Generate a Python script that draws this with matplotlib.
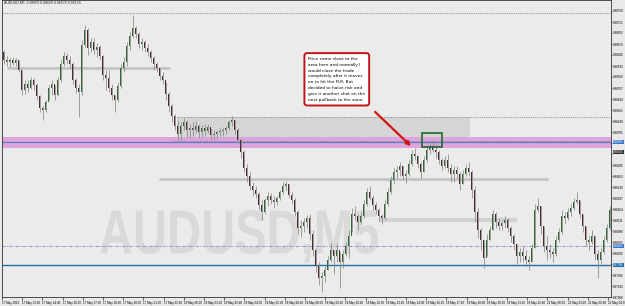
import numpy as np
import matplotlib.pyplot as plt
from matplotlib.textpath import TextPath
from matplotlib.patches import PathPatch, Rectangle
from matplotlib.font_manager import FontProperties
from matplotlib.transforms import Affine2D, blended_transform_factory

# AUDUSD M5 candles, open = previous close
first_open = 0.98635
highs = [
    0.98641, 0.98623, 0.98617, 0.98620, 0.98617, 0.98611, 0.98581, 0.98551, 0.98551, 0.98560,
    0.98557, 0.98542, 0.98506, 0.98476, 0.98491, 0.98536, 0.98551, 0.98536, 0.98560, 0.98611,
    0.98635, 0.98632, 0.98623, 0.98605, 0.98557, 0.98539, 0.98671, 0.98716, 0.98707, 0.98677,
    0.98677, 0.98662, 0.98656, 0.98626, 0.98581, 0.98581, 0.98539, 0.98506, 0.98545, 0.98599,
    0.98620, 0.98665, 0.98695, 0.98746, 0.98713, 0.98695, 0.98677, 0.98671, 0.98659, 0.98641,
    0.98623, 0.98605, 0.98587, 0.98575, 0.98545, 0.98515, 0.98479, 0.98449, 0.98431, 0.98425,
    0.98437, 0.98431, 0.98419, 0.98425, 0.98428, 0.98419, 0.98416, 0.98419, 0.98419, 0.98407,
    0.98401, 0.98401, 0.98407, 0.98410, 0.98413, 0.98431, 0.98443, 0.98431, 0.98407, 0.98377,
    0.98341, 0.98299, 0.98275, 0.98245, 0.98233, 0.98215, 0.98191, 0.98197, 0.98215, 0.98212,
    0.98203, 0.98203, 0.98221, 0.98245, 0.98248, 0.98239, 0.98215, 0.98197, 0.98161, 0.98131,
    0.98137, 0.98146, 0.98149, 0.98101, 0.98047, 0.98005, 0.97975, 0.97993, 0.98023, 0.98062,
    0.98041, 0.98062, 0.98035, 0.98041, 0.98065, 0.98101, 0.98167, 0.98173, 0.98149, 0.98155,
    0.98191, 0.98227, 0.98233, 0.98206, 0.98185, 0.98167, 0.98149, 0.98191, 0.98227, 0.98263,
    0.98287, 0.98293, 0.98305, 0.98293, 0.98281, 0.98311, 0.98341, 0.98347, 0.98326, 0.98305,
    0.98323, 0.98353, 0.98365, 0.98371, 0.98359, 0.98341, 0.98317, 0.98323, 0.98329, 0.98299,
    0.98293, 0.98293, 0.98275, 0.98281, 0.98299, 0.98305, 0.98281, 0.98233, 0.98167, 0.98107,
    0.98071, 0.98089, 0.98113, 0.98161, 0.98155, 0.98137, 0.98131, 0.98143, 0.98137, 0.98113,
    0.98089, 0.98059, 0.98047, 0.98053, 0.98041, 0.98023, 0.98059, 0.98179, 0.98197, 0.98173,
    0.98113, 0.98083, 0.98059, 0.98047, 0.98083, 0.98107, 0.98161, 0.98155, 0.98167, 0.98179,
    0.98197, 0.98215, 0.98191, 0.98149, 0.98113, 0.98083, 0.98101, 0.98083, 0.98041, 0.98047,
    0.98083, 0.98119, 0.98173,
]
lows = [
    0.98599, 0.98593, 0.98590, 0.98596, 0.98593, 0.98575, 0.98506, 0.98509, 0.98515, 0.98524,
    0.98521, 0.98491, 0.98455, 0.98431, 0.98455, 0.98491, 0.98506, 0.98491, 0.98503, 0.98545,
    0.98593, 0.98599, 0.98587, 0.98539, 0.98512, 0.98440, 0.98506, 0.98647, 0.98626, 0.98635,
    0.98629, 0.98620, 0.98611, 0.98551, 0.98521, 0.98515, 0.98491, 0.98455, 0.98485, 0.98527,
    0.98575, 0.98593, 0.98641, 0.98677, 0.98677, 0.98647, 0.98641, 0.98635, 0.98623, 0.98605,
    0.98581, 0.98575, 0.98551, 0.98539, 0.98491, 0.98455, 0.98425, 0.98401, 0.98371, 0.98371,
    0.98401, 0.98380, 0.98377, 0.98383, 0.98392, 0.98377, 0.98380, 0.98383, 0.98392, 0.98371,
    0.98371, 0.98377, 0.98383, 0.98383, 0.98389, 0.98401, 0.98413, 0.98389, 0.98359, 0.98317,
    0.98275, 0.98245, 0.98221, 0.98203, 0.98197, 0.98161, 0.98131, 0.98149, 0.98173, 0.98179,
    0.98167, 0.98176, 0.98191, 0.98209, 0.98221, 0.98197, 0.98179, 0.98143, 0.98089, 0.98080,
    0.98095, 0.98107, 0.98071, 0.98023, 0.97975, 0.97936, 0.97915, 0.97945, 0.97981, 0.98005,
    0.97969, 0.98005, 0.97927, 0.97987, 0.98023, 0.98017, 0.98095, 0.98131, 0.98101, 0.98119,
    0.98137, 0.98173, 0.98191, 0.98161, 0.98149, 0.98125, 0.98119, 0.98131, 0.98173, 0.98209,
    0.98239, 0.98257, 0.98263, 0.98251, 0.98242, 0.98263, 0.98293, 0.98311, 0.98287, 0.98257,
    0.98275, 0.98305, 0.98329, 0.98335, 0.98317, 0.98299, 0.98281, 0.98287, 0.98275, 0.98245,
    0.98245, 0.98257, 0.98221, 0.98239, 0.98263, 0.98263, 0.98197, 0.98125, 0.98077, 0.98041,
    0.97987, 0.98023, 0.98071, 0.98101, 0.98107, 0.98101, 0.98101, 0.98107, 0.98095, 0.98065,
    0.98041, 0.97999, 0.98005, 0.98005, 0.97993, 0.97981, 0.98005, 0.98047, 0.98155, 0.98089,
    0.98035, 0.98011, 0.98017, 0.98005, 0.98023, 0.98065, 0.98089, 0.98119, 0.98131, 0.98143,
    0.98161, 0.98179, 0.98137, 0.98095, 0.98053, 0.98041, 0.98059, 0.98011, 0.97957, 0.97999,
    0.98029, 0.98065, 0.98101,
]
closes = [
    0.98611, 0.98605, 0.98611, 0.98602, 0.98611, 0.98581, 0.98521, 0.98539, 0.98527, 0.98551,
    0.98536, 0.98503, 0.98467, 0.98461, 0.98485, 0.98527, 0.98539, 0.98506, 0.98551, 0.98599,
    0.98623, 0.98611, 0.98599, 0.98551, 0.98527, 0.98515, 0.98656, 0.98701, 0.98647, 0.98665,
    0.98641, 0.98650, 0.98623, 0.98566, 0.98557, 0.98527, 0.98506, 0.98491, 0.98533, 0.98587,
    0.98605, 0.98653, 0.98683, 0.98707, 0.98689, 0.98659, 0.98665, 0.98647, 0.98635, 0.98617,
    0.98599, 0.98587, 0.98563, 0.98551, 0.98509, 0.98473, 0.98443, 0.98413, 0.98389, 0.98413,
    0.98425, 0.98401, 0.98407, 0.98401, 0.98413, 0.98395, 0.98407, 0.98398, 0.98410, 0.98386,
    0.98389, 0.98395, 0.98398, 0.98401, 0.98407, 0.98425, 0.98431, 0.98401, 0.98371, 0.98335,
    0.98287, 0.98263, 0.98233, 0.98221, 0.98209, 0.98176, 0.98155, 0.98191, 0.98203, 0.98191,
    0.98185, 0.98197, 0.98215, 0.98233, 0.98239, 0.98206, 0.98191, 0.98155, 0.98107, 0.98113,
    0.98125, 0.98137, 0.98089, 0.98041, 0.97993, 0.97957, 0.97963, 0.97981, 0.98011, 0.98041,
    0.98023, 0.98041, 0.98005, 0.98029, 0.98053, 0.98083, 0.98149, 0.98143, 0.98125, 0.98143,
    0.98179, 0.98215, 0.98197, 0.98176, 0.98161, 0.98143, 0.98137, 0.98179, 0.98215, 0.98251,
    0.98275, 0.98281, 0.98293, 0.98263, 0.98269, 0.98299, 0.98329, 0.98323, 0.98299, 0.98275,
    0.98311, 0.98341, 0.98353, 0.98341, 0.98335, 0.98311, 0.98293, 0.98311, 0.98287, 0.98269,
    0.98281, 0.98269, 0.98239, 0.98269, 0.98287, 0.98275, 0.98221, 0.98155, 0.98101, 0.98071,
    0.98017, 0.98071, 0.98101, 0.98149, 0.98125, 0.98113, 0.98122, 0.98131, 0.98107, 0.98083,
    0.98059, 0.98023, 0.98035, 0.98023, 0.98011, 0.98005, 0.98047, 0.98161, 0.98173, 0.98113,
    0.98053, 0.98041, 0.98035, 0.98029, 0.98071, 0.98095, 0.98143, 0.98137, 0.98155, 0.98167,
    0.98185, 0.98191, 0.98149, 0.98113, 0.98071, 0.98065, 0.98083, 0.98029, 0.98011, 0.98035,
    0.98071, 0.98107, 0.98161,
]

time_labels = [
    "17 May 2012", "17 May 13:20", "17 May 14:40", "17 May 16:00", "17 May 17:20",
    "17 May 18:40", "17 May 20:00", "17 May 21:20", "17 May 22:40", "18 May 00:00",
    "18 May 01:20", "18 May 02:40", "18 May 04:00", "18 May 05:20", "18 May 06:40",
    "18 May 08:00", "18 May 09:20", "18 May 10:40", "18 May 12:00", "18 May 13:20",
    "18 May 14:40", "18 May 16:00", "18 May 17:20", "18 May 18:40", "18 May 20:00",
    "18 May 21:20", "18 May 22:40", "21 May 00:00", "21 May 01:20", "21 May 02:40",
    "21 May 04:00",
]

# drawn levels / zones (prices)
top_dotted = 0.98752
box_top = 0.98440
zone = (0.98347, 0.98381)
sr_dotted = 0.98368
blue_level = 0.98365
dashdot_level = 0.98053
blue_solid = 0.97996
gray_segments = [(0.98587, 1.2, 55.5), (0.98254, 51.8, 181.5)]
gray_band = (0.98131, 125.5, 171.2)
price_low, price_high = 0.97900, 0.98791

n = min(len(highs), len(lows), len(closes))
opens = [first_open] + closes[:n - 1]
x = np.arange(n)

fig = plt.figure(figsize=(6.25, 3.06), dpi=100, facecolor='#e9e9e9')
ax = fig.add_axes([2 / 625, 9 / 306, 609 / 625, 297 / 306])
ax.set_facecolor('#ebebeb')
ax.set_xlim(-0.5, n - 0.5)
ax.set_ylim(price_low, price_high)
small = FontProperties(family='Liberation Sans', size=2.5)
tiny = FontProperties(family='Liberation Sans', size=2.2)

# watermark
fp = FontProperties(family='Liberation Sans', weight='bold')
tp = TextPath((0, 0), "AUDUSD,M5", size=1, prop=fp)
ext = tp.get_extents()
y0, y1 = 0.98002, 0.98161
sx = (124.8 - 32.2) / ext.width
sy = (y1 - y0) / ext.height
wpath = Affine2D().translate(-ext.x0, -ext.y0).scale(sx, sy).translate(32.2, y0).transform_path(tp)
ax.add_patch(PathPatch(wpath, fc='#d9d9d9', ec='none', zorder=0.5))

# zones
ax.add_patch(Rectangle((57.8, zone[1]), 155.5 - 57.8, box_top - zone[1],
                       fc='#d5d5d5', ec='none', zorder=0.6))
ax.axhspan(zone[0], zone[1], color='#dfa4dd', zorder=0.7, lw=0)
for yv, xa, xb in gray_segments:
    ax.plot([xa, xb], [yv, yv], color='#c4c4c4', lw=2.0, zorder=0.8, solid_capstyle='butt')
ax.plot([gray_band[1], gray_band[2]], [gray_band[0]] * 2, color='#d2d2d2', lw=3.0,
        zorder=0.8, solid_capstyle='butt')

ax.axhline(top_dotted, color='#9a9a9a', lw=0.8, ls=(0, (1, 1)), zorder=0.9)
ax.plot([57.8, n], [box_top, box_top], color='#9a9a9a', lw=0.8, ls=(0, (1, 1)), zorder=0.9)
ax.plot([56.5, n], [sr_dotted, sr_dotted], color='#8a8a8a', lw=0.8, ls=(0, (1, 1)), zorder=0.9)
ax.axhline(blue_level, color='#5b7fc0', lw=0.9, zorder=0.9)
ax.axhline(dashdot_level, color='#7d8db5', lw=0.6, ls=(0, (4, 1.5, 1, 1.5)), zorder=0.9)
ax.axhline(blue_solid, color='#1f6fa8', lw=1.0, zorder=0.9)

# candles
ax.vlines(x, lows[:n], highs[:n], color='#8e8e8e', lw=0.6, zorder=2)
o = np.array(opens)
c = np.array(closes[:n])
bottoms = np.minimum(o, c)
heights = np.maximum(np.abs(c - o), 0.000015)
body_colors = ['#2f6a36' if cc >= oo else '#4b2b2b' for oo, cc in zip(o, c)]
ax.bar(x, heights, bottom=bottoms, width=0.62, color=body_colors, lw=0, zorder=3)

# note box, arrow, highlight
note = ("Price came close to the\narea here and normally I\nwould close the trade\n"
        "completely after it moves\non to hit the FLR. But\ndecided to halve risk and\n"
        "give it another shot on the\nnext pullback to the zone.")
ax.text(101.6, 0.98620, note, fontsize=3.1, va='top', ha='left', linespacing=1.6, zorder=5,
        bbox=dict(boxstyle='round,pad=0.9,rounding_size=0.6', fc='white', ec='#c0141c', lw=1.4))
ax.annotate('', xy=(136.5, 0.98347), xytext=(123.2, 0.98461), zorder=5,
            arrowprops=dict(arrowstyle='-|>', color='#d41414', lw=1.6, mutation_scale=6))
ax.add_patch(Rectangle((139.5, 0.98350), 6.7, 0.00042, fill=False, ec='#1f6a2a', lw=1.2, zorder=5))

ax.text(0.004, 0.997, "AUDUSD,M5  0.98609 0.98629 0.98570 0.98574", transform=ax.transAxes,
        fontproperties=small, va='top', ha='left', color='#222222')

# price labels shown in coloured boxes on the scale
marked = [(blue_level, '#3b78c8'), (dashdot_level, '#3b78c8'), (blue_solid, '#1f6fa8'),
          (0.98335, '#333333')]

# axes
ax.yaxis.tick_right()
yt = price_low + 0.00033 * np.arange(27)
ax.set_yticks(yt)
ax.set_yticklabels(["" if min(abs(v - m) for m, _ in marked) < 0.00012 else f"{v:.5f}"
                    for v in yt], fontproperties=tiny)
ax.tick_params(axis='y', length=1.0, width=0.4, pad=0.5)
xt = np.linspace(-0.5, n - 1.5, len(time_labels))
ax.set_xticks(xt)
ax.set_xticklabels(time_labels, ha='left', fontproperties=tiny)
ax.tick_params(axis='x', length=2, width=0.4, pad=0.8)
for s in ax.spines.values():
    s.set_linewidth(0.6)
    s.set_color('#333333')

tr = blended_transform_factory(ax.transAxes, ax.transData)
for val, col in marked:
    ax.text(1.003, val, f"{val:.5f}", transform=tr, fontproperties=tiny, color='white',
            va='center', ha='left', clip_on=False, zorder=6,
            bbox=dict(boxstyle='square,pad=0.1', fc=col, ec='none'))

fig.savefig('out.png', dpi=100, facecolor=fig.get_facecolor())
